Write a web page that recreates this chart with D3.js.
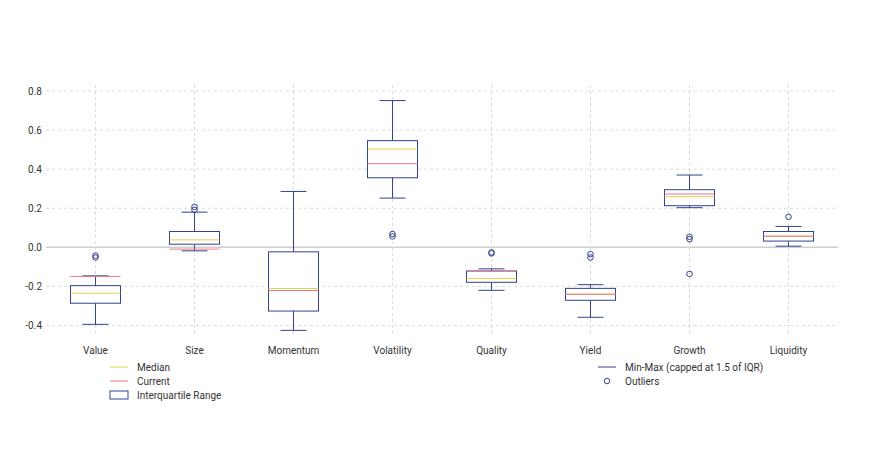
<!DOCTYPE html>
<html><head><meta charset="utf-8">
<script src="https://cdn.jsdelivr.net/npm/d3@7"></script>
<style>body{margin:0;background:#fff;font-family:Roboto,sans-serif}</style>
</head><body><div id="chart"></div>
<script>
const categories = ["Value","Size","Momentum","Volatility","Quality","Yield","Growth","Liquidity"];
const lowWhisker = [-0.394,-0.018,-0.425,0.252,-0.220,-0.358,0.203,0.006];
const q1 = [-0.286,0.016,-0.326,0.356,-0.179,-0.271,0.213,0.032];
const median = [-0.235,0.038,-0.211,0.503,-0.160,-0.240,0.259,0.057];
const q3 = [-0.196,0.081,-0.023,0.546,-0.121,-0.210,0.295,0.081];
const highWhisker = [-0.146,0.180,0.286,0.751,-0.110,-0.191,0.370,0.107];
const current = [-0.149,-0.009,-0.221,0.428,-0.121,-0.240,0.273,0.057];
const outliers = [[-0.042,-0.052],[0.207,0.192],[],[0.068,0.056],[-0.026,-0.031],[-0.035,-0.052],[0.054,0.042,-0.136],[0.156]];
const yTicks = [-0.4,-0.2,0,0.2,0.4,0.6,0.8];

const W = 870, H = 455;
const navy = "#33418f", yellow = "#e3cf4e", pink = "#e8788a";
const svg = d3.select("#chart").append("svg").attr("width", W).attr("height", H);

const x = d3.scaleBand().domain(categories).range([46, 838]);
const y = d3.scaleLinear().domain([-0.4, 0.8]).range([325.5, 91]);

// grid
svg.append("g").selectAll("line").data(yTicks).join("line")
  .attr("x1", 46).attr("x2", 838).attr("y1", d => y(d)).attr("y2", d => y(d))
  .attr("stroke", d => d === 0 ? "#cfcfcf" : "#dcdcdc")
  .attr("stroke-width", d => d === 0 ? 1.5 : 1)
  .attr("stroke-dasharray", d => d === 0 ? null : "3,3");
svg.append("g").selectAll("line").data(categories).join("line")
  .attr("x1", d => x(d) + x.bandwidth() / 2).attr("x2", d => x(d) + x.bandwidth() / 2)
  .attr("y1", 85).attr("y2", 335)
  .attr("stroke", "#dcdcdc").attr("stroke-dasharray", "3,3");

// tick labels
svg.append("g").selectAll("text").data(yTicks).join("text")
  .attr("x", 42).attr("y", d => y(d) + 3.5).attr("text-anchor", "end")
  .attr("font-size", 10).attr("fill", "#333").text(d => d.toFixed(1));
svg.append("g").selectAll("text").data(categories).join("text")
  .attr("x", d => x(d) + x.bandwidth() / 2).attr("y", 354).attr("text-anchor", "middle")
  .attr("font-size", 10).attr("fill", "#333").text(d => d);

// boxes
const bw = 50, cw = 26;
const g = svg.append("g").selectAll("g").data(categories).join("g")
  .attr("transform", d => `translate(${x(d) + x.bandwidth() / 2},0)`);
g.append("line").attr("y1", (d, i) => y(lowWhisker[i])).attr("y2", (d, i) => y(q1[i])).attr("stroke", navy);
g.append("line").attr("y1", (d, i) => y(q3[i])).attr("y2", (d, i) => y(highWhisker[i])).attr("stroke", navy);
g.append("line").attr("x1", -cw / 2).attr("x2", cw / 2)
  .attr("y1", (d, i) => y(lowWhisker[i])).attr("y2", (d, i) => y(lowWhisker[i])).attr("stroke", navy);
g.append("line").attr("x1", -cw / 2).attr("x2", cw / 2)
  .attr("y1", (d, i) => y(highWhisker[i])).attr("y2", (d, i) => y(highWhisker[i])).attr("stroke", navy);
g.append("rect").attr("x", -bw / 2).attr("width", bw)
  .attr("y", (d, i) => y(q3[i])).attr("height", (d, i) => y(q1[i]) - y(q3[i]))
  .attr("fill", "#fff").attr("stroke", navy);
g.append("line").attr("x1", -bw / 2).attr("x2", bw / 2)
  .attr("y1", (d, i) => y(median[i])).attr("y2", (d, i) => y(median[i])).attr("stroke", yellow);
g.append("line").attr("x1", -bw / 2).attr("x2", bw / 2)
  .attr("y1", (d, i) => y(current[i])).attr("y2", (d, i) => y(current[i])).attr("stroke", pink);
g.each(function (d, i) {
  d3.select(this).selectAll("circle").data(outliers[i]).join("circle")
    .attr("cy", v => y(v)).attr("r", 2.8).attr("fill", "none").attr("stroke", navy);
});

// legend
const leg = svg.append("g").attr("font-size", 10).attr("fill", "#333");
const items = [
  {x: 110, y: 367, type: "line", c: yellow, t: "Median"},
  {x: 110, y: 381, type: "line", c: pink, t: "Current"},
  {x: 110, y: 395, type: "rect", c: navy, t: "Interquartile Range"},
  {x: 598, y: 367, type: "line", c: navy, t: "Min-Max (capped at 1.5 of IQR)"},
  {x: 598, y: 381, type: "circle", c: navy, t: "Outliers"}
];
items.forEach(it => {
  if (it.type === "line") leg.append("line").attr("x1", it.x).attr("x2", it.x + 18).attr("y1", it.y).attr("y2", it.y).attr("stroke", it.c);
  if (it.type === "rect") leg.append("rect").attr("x", it.x).attr("y", it.y - 4).attr("width", 18).attr("height", 8).attr("fill", "none").attr("stroke", it.c);
  if (it.type === "circle") leg.append("circle").attr("cx", it.x + 9).attr("cy", it.y).attr("r", 2.8).attr("fill", "none").attr("stroke", it.c);
  leg.append("text").attr("x", it.x + 27).attr("y", it.y + 3.5).text(it.t);
});
</script></body></html>
